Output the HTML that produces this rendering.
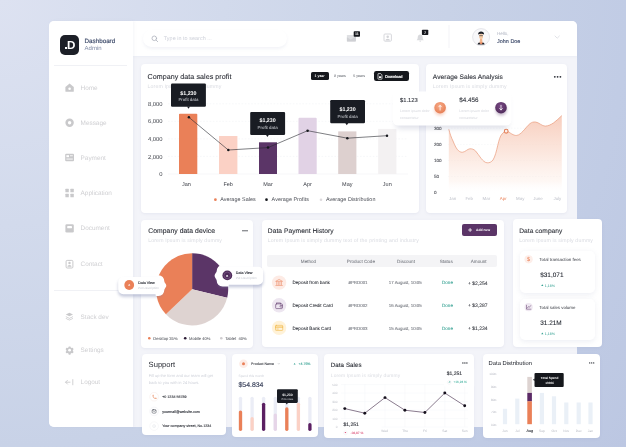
<!DOCTYPE html>
<html><head><meta charset="utf-8">
<style>
*{box-sizing:border-box;margin:0;padding:0}
html,body{width:626px;height:447px;overflow:hidden}
body{font-family:"Liberation Sans",sans-serif;text-rendering:geometricPrecision;background:radial-gradient(circle at 0 0,#dde2f1 0,#d2daec 224px,#c8d2e7 447px,#c1cce5 626px,#bcc7e2 769px);position:relative}
.a{position:absolute}
.t{position:absolute;white-space:nowrap;line-height:1;transform:translateY(-50%)}
.c{transform:translate(-50%,-50%)}
.r{transform:translate(-100%,-50%)}
.b{font-weight:bold}
.card{position:absolute;background:#fff;border-radius:4px;box-shadow:0 1px 3px rgba(120,130,170,.10)}
.h1{font-size:7.1px;color:#2b2e36;letter-spacing:.06px;--sw:.1px}
.sub{font-size:5.18px;color:#d9dbe1;letter-spacing:.15px}
.m{font-size:6.4px;color:#cfcfd2}
svg{position:absolute;left:0;top:0;overflow:visible}
.ax{font-size:5.85px;color:#3f424a}
.lg{font-size:5.4px;color:#4a4d55;letter-spacing:.05px}
.fs{font-size:3.5px;color:#d4d6dc;letter-spacing:.05px}
.ay{font-size:4.6px;color:#3c3f47;--sw:.06px}
.axl{font-size:4.4px;color:#bcbfc8}
.dv{font-size:3.7px;color:#2b2e36;--sw:.12px}
.pd{font-size:3.1px;color:#c9ccd3}
.pl{font-size:4.1px;color:#3c3f47}
.th{font-size:4.6px;color:#72757d;--sw:.04px}
.rn{font-size:4.6px;color:#2b2e36;--sw:.07px}
.rc{font-size:4.4px;color:#72757d;--sw:.08px}
.rd{font-size:4.6px;color:#2f9e8f;--sw:.05px}
.ra{font-size:5px;color:#2b2e36;--sw:.05px}
.sp{font-size:3.65px;color:#2b2e36;--sw:.1px}
.ys{font-size:3.1px;color:#b9bcc5}
.xs{font-size:3.3px;color:#b6b9c2}

text{fill:currentColor;stroke:currentColor;stroke-width:var(--sw,0);white-space:pre}
</style></head><body>
<div id="root" class="a" style="left:0;top:0;width:626px;height:447px;will-change:transform">
<!-- window -->
<div class="a" style="left:49px;top:20.5px;width:528px;height:406.5px;background:#f3f4f9;border-radius:5px"></div>
<div class="a" style="left:133px;top:20.5px;width:444px;height:35.7px;background:#fff;border-radius:0 5px 0 0;box-shadow:0 1px 2px rgba(150,160,190,.08)"></div>
<div class="a" style="left:49px;top:20.5px;width:84px;height:406.5px;background:#fff;border-radius:5px 0 0 5px;box-shadow:1px 0 3px rgba(150,160,190,.10)"></div>

<!-- SIDEBAR -->
<div id="sidebar">
<div class="a" style="left:59.5px;top:35px;width:19.5px;height:19.5px;border-radius:5px;background:#1c1f27"></div>
<div class="a" style="left:64.6px;top:46.6px;width:2.5px;height:2.5px;background:#fff"></div>
<svg width="626" height="447" viewBox="0 0 626 447">
<text class="b" x="67" y="49" text-anchor="start" style="font-size:11.6px;color:#fff">D</text>
<text class="" x="84.6" y="43" text-anchor="start" style="font-size:6.25px;color:#3f4c6b;--sw:.16px">Dashboard</text>
<text class="" x="84.6" y="50" text-anchor="start" style="font-size:6px;color:#7d88a3">Admin</text>
</svg>
<div class="a" style="left:54px;top:65px;width:73px;height:1px;background:#f0f1f5"></div>
<div class="a" style="left:54px;top:290px;width:73px;height:1px;background:#f0f1f5"></div>
<svg width="626" height="447" viewBox="0 0 626 447">
<text class="m" x="80.6" y="90" text-anchor="start">Home</text>
<text class="m" x="80.6" y="125" text-anchor="start">Message</text>
<text class="m" x="80.6" y="160" text-anchor="start">Payment</text>
<text class="m" x="80.6" y="195" text-anchor="start">Application</text>
<text class="m" x="80.6" y="230" text-anchor="start">Document</text>
<text class="m" x="80.6" y="266" text-anchor="start">Contact</text>
<text class="m" x="80.6" y="319" text-anchor="start">Stack dev</text>
<text class="m" x="80.6" y="352" text-anchor="start">Settings</text>
<text class="m" x="80.6" y="384" text-anchor="start">Logout</text>
</svg>
<svg width="626" height="447" viewBox="0 0 626 447" fill="#c9c9cb">
 <!-- home -->
 <path d="M69.6 83.4 L73.8 87 V91.2 a.6 .6 0 0 1 -.6 .6 H66 a.6 .6 0 0 1 -.6 -.6 V87 Z"/>
 <circle cx="69.6" cy="88.8" r="1.3" fill="#fff"/>
 <!-- message -->
 <circle cx="69.6" cy="122.7" r="4.2"/><circle cx="69.6" cy="122.7" r="1.7" fill="#fff"/>
 <!-- payment -->
 <rect x="65.2" y="153.8" width="8.8" height="7.4" rx="1"/>
 <rect x="66.4" y="155.2" width="2.6" height="2" fill="#fff"/><rect x="70" y="155.4" width="2.8" height=".8" fill="#fff"/><rect x="66.4" y="158.6" width="6.4" height=".9" fill="#fff"/>
 <!-- application -->
 <rect x="65.4" y="188.8" width="3.4" height="3.4" rx=".5"/><rect x="70.4" y="188.8" width="3.4" height="3.4" rx=".5"/>
 <rect x="65.4" y="193.8" width="3.4" height="3.4" rx=".5"/><rect x="70.4" y="193.8" width="3.4" height="3.4" rx=".5"/>
 <!-- document -->
 <rect x="65.4" y="224.2" width="8.4" height="8.4" rx="1.3"/><rect x="67.2" y="226" width="4.8" height="2.2" rx=".4" fill="#fff"/>
 <!-- contact -->
 <rect x="66.1" y="260.4" width="6.8" height="7.6" rx="1.1" fill="#fff" stroke="#c9c9cb" stroke-width="1"/><circle cx="69.5" cy="263" r="1.2"/><path d="M67.4 266.8 a2.1 1.7 0 0 1 4.2 0 Z"/>
 <!-- stack -->
 <g transform="translate(69.4 316.6) scale(.78) translate(-69.6 -316.5)">
 <path d="M69.6 311.6 L74.2 313.9 L69.6 316.2 L65 313.9 Z"/>
 <path d="M65 316 L69.6 318.3 L74.2 316 L74.2 316.9 L69.6 319.2 L65 316.9 Z"/>
 <path d="M65 318.2 L69.6 320.5 L74.2 318.2 L74.2 319.1 L69.6 321.4 L65 319.1 Z"/>
 </g>
 <!-- settings -->
 <g transform="translate(69.6 350.2) scale(.82)"><path d="M-1 -4.6 h2 l.4 1.3 l1.2 .7 l1.3 -.4 l1 1.7 l-.9 1 v1.4 l.9 1 l-1 1.7 l-1.3 -.4 l-1.2 .7 l-.4 1.3 h-2 l-.4 -1.3 l-1.2 -.7 l-1.3 .4 l-1 -1.7 l.9 -1 v-1.4 l-.9 -1 l1 -1.7 l1.3 .4 l1.2 -.7 Z"/><circle r="1.7" fill="#fff"/></g>
 <!-- logout -->
 <g stroke="#c9c9cb" stroke-width=".85" fill="none" stroke-linecap="round" stroke-linejoin="round"><path d="M70 382.2 H65.600 M67.500 380.300 L65.600 382.200 L67.500 384.100"/><path d="M72.800 379.600 V384.800"/></g>
</svg>
</div>

<!-- HEADER -->
<div id="header">
<div class="a" style="left:143px;top:30px;width:144px;height:17px;border-radius:8.5px;background:#fff;box-shadow:0 2px 3px rgba(140,150,190,.10)"></div>
<svg width="626" height="447" viewBox="0 0 626 447"><g stroke="#aeb2bd" stroke-width=".8" fill="none" stroke-linecap="round"><circle cx="154.3" cy="38.3" r="2.3"/><path d="M156.1 40.1 L157.7 41.7"/></g></svg>
<svg width="626" height="447" viewBox="0 0 626 447">
<text class="" x="163.8" y="40" text-anchor="start" style="font-size:5.4px;color:#cdd0d9;letter-spacing:.05px">Type in to search ...</text>
</svg>
<svg width="626" height="447" viewBox="0 0 626 447" fill="#d3d4d8">
 <rect x="346.9" y="35" width="9" height="6.4" rx=".6" fill="#dfe0e3"/><path d="M346.9 41.4 V37.2 L350.6 39.4 L355.9 36.4 V40.8 a.6 .6 0 0 1 -.6 .6 Z" fill="#cfd0d4"/>
 <rect x="353.7" y="31.2" width="6.3" height="5.6" rx=".8" fill="#15171c"/>
 <rect x="384" y="34" width="7.4" height="7.2" rx="1" fill="#fff" stroke="#d3d4d8" stroke-width=".9"/><circle cx="387.7" cy="36.7" r="1.25"/><path d="M385.4 40.6 a2.3 1.9 0 0 1 4.600 0 Z"/>
 <path d="M420.2 34.4 c1.800 0 2.500 1.500 2.500 3 c0 1.500 .5 2.100 1.100 2.800 H416.600 c.6 -.7 1.100 -1.300 1.100 -2.800 c0 -1.500 .7 -3 2.500 -3 Z M419.300 40.800 h1.800 a.9 .9 0 0 1 -1.800 0Z" fill="#d9dadd"/>
 <rect x="421.900" y="29.700" width="6.400" height="5.400" rx=".8" fill="#15171c"/>
 <rect x="448.6" y="25" width=".8" height="23" fill="#f0f1f5"/>
</svg>
<svg width="626" height="447" viewBox="0 0 626 447">
<text class="b" x="356.9" y="35" text-anchor="middle" style="font-size:3.6px;color:#fff">11</text>
<text class="b" x="425.1" y="34" text-anchor="middle" style="font-size:3.8px;color:#fff">7</text>
</svg>
<svg width="626" height="447" viewBox="0 0 626 447">
 <circle cx="481.1" cy="37.1" r="8.5" fill="#f8f8fa" stroke="#dfe0e4" stroke-width=".8"/>
 <path d="M477.600 44.600 c.2 -1.700 1.200 -2.400 3.500 -2.400 s3.300 .7 3.500 2.400 Z" fill="#1d1f26"/>
 <path d="M480.100 38.600 h2 l.5 4.400 l-1.500 1.300 l-1.500 -1.300 Z" fill="#f2b48c"/>
 <path d="M480.700 42 h.8 l.3 1.800 l-.7 .7 l-.7 -.7 Z" fill="#ea8058"/>
 <rect x="479.200" y="33.800" width="3.800" height="5.200" rx="1.700" fill="#f6cba6"/>
 <path d="M478.100 34.400 c0 -2 1.400 -2.800 3 -2.800 s3 .8 3 2.800 c-1 -.5 -2 -.7 -3 -.7 s-2 .2 -3 .7Z" fill="#1d1f26"/>
 <path d="M479.300 35.700 h3.600" stroke="#3b3d45" stroke-width=".7"/>
 <path d="M555 36 L557.2 38.2 L559.4 36" stroke="#d4d6dc" stroke-width=".7" fill="none" stroke-linecap="round" stroke-linejoin="round"/>
</svg>
<svg width="626" height="447" viewBox="0 0 626 447">
<text class="" x="497.1" y="35" text-anchor="start" style="font-size:4.5px;color:#b0b5c2">Hello,</text>
<text class="" x="497.1" y="43" text-anchor="start" style="font-size:5.45px;color:#3f4c6b;--sw:.14px">John Doe</text>
</svg>
</div>

<!-- CARDS -->
<div class="card" id="c1" style="left:140.5px;top:64px;width:278.4px;height:148.5px"></div>
<div class="card" id="c2" style="left:426.4px;top:64px;width:141px;height:148.5px"></div>
<div class="card" id="c3" style="left:141.4px;top:220px;width:111.7px;height:127.9px"></div>
<div class="card" id="c4" style="left:262px;top:220px;width:242px;height:126.8px"></div>
<div class="card" id="c5" style="left:512.8px;top:218.8px;width:89.2px;height:128px"></div>
<div class="card" id="c6" style="left:142px;top:354.4px;width:84.2px;height:80.8px"></div>
<div class="card" id="c7" style="left:232px;top:354.4px;width:85.7px;height:82.6px"></div>
<div class="card" id="c8" style="left:323.6px;top:354.4px;width:150.9px;height:83.7px"></div>
<div class="card" id="c9" style="left:482.6px;top:354.2px;width:117.7px;height:84.2px"></div>

<!--C1S-->
<div id="c1c">
<svg width="626" height="447" viewBox="0 0 626 447">
<text class="h1" x="147.5" y="79" text-anchor="start">Company data sales profit</text>
<text class="sub" x="147.5" y="88" text-anchor="start">Lorem Ipsum is simply dummy</text>
</svg>
<div class="a" style="left:311px;top:72.2px;width:17.5px;height:7.9px;border-radius:1.6px;background:#15171c"></div>
<svg width="626" height="447" viewBox="0 0 626 447">
<text class="b" x="319.6" y="77" text-anchor="middle" style="font-size:3.5px;color:#fff">1 year</text>
<text class="" x="340" y="77" text-anchor="middle" style="font-size:3.6px;color:#75787f;--sw:.05px">3 years</text>
<text class="" x="359.2" y="77" text-anchor="middle" style="font-size:3.6px;color:#75787f;--sw:.05px">5 years</text>
</svg>
<div class="a" style="left:374px;top:71.4px;width:35.2px;height:9.7px;border-radius:2.2px;background:#15171c"></div>
<svg width="626" height="447" viewBox="0 0 626 447">
<text class="" x="385" y="78" text-anchor="start" style="font-size:3.95px;color:#fff;--sw:.18px">Download</text>
</svg>
<svg width="626" height="447" viewBox="0 0 626 447">
 <path d="M378.4 73.6 h2.3 l1.3 1.3 v3.9 a.4 .4 0 0 1 -.4 .4 h-3.2 a.4 .4 0 0 1 -.4 -.4 v-4.8 a.4 .4 0 0 1 .4 -.4Z" fill="none" stroke="#fff" stroke-width=".7"/>
 <rect x="379" y="76.3" width="2.2" height="1.7" fill="#fff"/>
 <g stroke="#f0f1f5" stroke-width=".6" stroke-dasharray="1.6 1.6">
  <path d="M168 103.8 H408 M168 121.3 H408 M168 138.9 H408 M168 156.4 H408"/>
 </g>
 <path d="M168 174 H408" stroke="#f1f2f5" stroke-width=".6"/>
 <path d="M179 174 V114.6 a.9 .9 0 0 1 .9 -.9 h16.5 a.9 .9 0 0 1 .9 .9 V174 Z" fill="#ea8058"/>
 <rect x="219" y="136" width="18.4" height="38" fill="#fbd1c5"/>
 <rect x="259" y="142.3" width="18" height="31.7" fill="#5b3567"/>
 <path d="M298.5 174 V118.7 a1 1 0 0 1 1 -1 h16.2 a1 1 0 0 1 1 1 V174 Z" fill="#e1d2e5"/>
 <rect x="338.2" y="131.4" width="18.2" height="42.6" fill="#ddd0cf"/>
 <rect x="378.2" y="128.9" width="18.2" height="45.1" fill="#f3f1f2"/>
 <polyline points="188.9,117.3 228.3,150 268,147.6 307.6,130.7 347.3,138.2 387,135.7" fill="none" stroke="#26282f" stroke-width=".6"/>
 <g fill="#15171c"><circle cx="188.9" cy="117.3" r="1.25"/><circle cx="228.3" cy="150" r="1.25"/><circle cx="268" cy="147.6" r="1.25"/><circle cx="307.6" cy="130.7" r="1.25"/><circle cx="347.3" cy="138.2" r="1.25"/><circle cx="387" cy="135.7" r="1.25"/></g>
 <g fill="#191c23">
  <rect x="171" y="83.5" width="34.9" height="23.3" rx="1.2"/><path d="M187 106.6 h3 l-1.5 2.1 Z"/>
  <rect x="250.2" y="111.9" width="34.9" height="23.1" rx="1.2"/><path d="M265.9 134.8 h3 l-1.5 2.1 Z"/>
  <rect x="330.2" y="100.1" width="34.8" height="23.2" rx="1.2"/><path d="M345.3 123.1 h3 l-1.5 2.1 Z"/>
 </g>
 <circle cx="215.4" cy="199.7" r="1.35" fill="#ea8058"/><circle cx="266.5" cy="199.7" r="1.35" fill="#15171c"/><circle cx="321" cy="199.7" r="1.3" fill="#dddadd"/>
</svg>
<svg width="626" height="447" viewBox="0 0 626 447">
<text class="b" x="188.4" y="95" text-anchor="middle" style="font-size:5.3px;color:#fff">$1,230</text>
<text class="" x="188.4" y="101" text-anchor="middle" style="font-size:4.4px;color:#d9dbe0">Profit data</text>
<text class="b" x="267.6" y="122" text-anchor="middle" style="font-size:5.3px;color:#fff">$1,230</text>
<text class="" x="267.6" y="129" text-anchor="middle" style="font-size:4.4px;color:#d9dbe0">Profit data</text>
<text class="b" x="347.6" y="111" text-anchor="middle" style="font-size:5.3px;color:#fff">$1,230</text>
<text class="" x="347.6" y="118" text-anchor="middle" style="font-size:4.4px;color:#d9dbe0">Profit data</text>
<text class="ax" x="162.6" y="106" text-anchor="end">8,000</text>
<text class="ax" x="162.6" y="123" text-anchor="end">6,000</text>
<text class="ax" x="162.6" y="141" text-anchor="end">4,000</text>
<text class="ax" x="162.6" y="159" text-anchor="end">2,000</text>
<text class="ax" x="162.6" y="176" text-anchor="end">0</text>
<text class="ax" x="186.4" y="186" text-anchor="middle" style="font-size:5.5px">Jan</text>
<text class="ax" x="228.2" y="186" text-anchor="middle" style="font-size:5.5px">Feb</text>
<text class="ax" x="268" y="186" text-anchor="middle" style="font-size:5.5px">Mar</text>
<text class="ax" x="307.6" y="186" text-anchor="middle" style="font-size:5.5px">Apr</text>
<text class="ax" x="347.3" y="186" text-anchor="middle" style="font-size:5.5px">May</text>
<text class="ax" x="387.3" y="186" text-anchor="middle" style="font-size:5.5px">Jun</text>
<text class="lg" x="220.2" y="201" text-anchor="start">Average Sales</text>
<text class="lg" x="271.6" y="201" text-anchor="start">Average Profits</text>
<text class="lg" x="326" y="201" text-anchor="start">Average Distribution</text>
</svg>
</div>
<!--C1E-->
<!--C2S-->
<div id="c2c">
<svg width="626" height="447" viewBox="0 0 626 447">
<text class="h1" x="432.8" y="79" text-anchor="start" style="font-size:6.6px">Average Sales Analysis</text>
<text class="sub" x="432.8" y="88" text-anchor="start">Lorem Ipsum is simply dummy</text>
</svg>
<svg width="626" height="447" viewBox="0 0 626 447">
 <defs>
  <linearGradient id="ag" x1="0" y1="0" x2="0" y2="1"><stop offset="0" stop-color="#f7cbba" stop-opacity=".95"/><stop offset=".5" stop-color="#fadccf" stop-opacity=".66"/><stop offset=".85" stop-color="#fce6dc" stop-opacity=".3"/><stop offset="1" stop-color="#fff" stop-opacity="0"/></linearGradient>
  <radialGradient id="og" cx=".45" cy=".35" r=".7"><stop offset="0" stop-color="#f7ab88"/><stop offset="1" stop-color="#e57c52"/></radialGradient>
  <radialGradient id="pg" cx=".45" cy=".35" r=".7"><stop offset="0" stop-color="#7a4a86"/><stop offset="1" stop-color="#4d2a58"/></radialGradient>
  <filter id="sh" x="-50%" y="-50%" width="200%" height="200%"><feGaussianBlur stdDeviation="1.6"/></filter>
 <filter id="sh2" x="-50%" y="-50%" width="200%" height="200%"><feGaussianBlur stdDeviation="2.6"/></filter>
 </defs>
 <g fill="#2b2e36"><circle cx="554.8" cy="76.8" r=".9"/><circle cx="557.6" cy="76.8" r=".9"/><circle cx="560.4" cy="76.8" r=".9"/></g>
 <g stroke="#f1f2f5" stroke-width=".5" stroke-dasharray="1.5 1.5"><path d="M448 128.2 H562 M448 144.4 H562 M448 160.4 H562 M448 176.4 H562"/></g>
 <path id="acurve" d="M448.8 129.2 C450 134 451.5 138 453 141 C455 146 456.5 149 458.6 150.8 C460 152 461.5 152.4 462.8 152.2 C465.5 151.8 467.5 149 469.8 148.8 C472 148.6 473.8 149.4 475.4 150.8 C477.6 153 479 156 481 158.3 C483 160.8 485 162.6 487.1 162.8 C489.4 163 491.5 162 493 160 C495.2 156.5 496.4 151 497.8 145.2 C499 140 500.2 136 502 134 C503.3 132.4 504.8 131.4 506.2 131.2 C508.2 131 510 133 511.8 134 C513.5 135 515.2 135.6 516.8 135.4 C519.2 135 521 133.2 523 131.2 C525.5 128.6 527.5 125.6 530 123.6 C531.8 122.2 533.6 121.8 535.5 122 C539 122.4 542 126.2 545.3 126.1 C548.3 126 551 124.6 553.7 122.8 C556.6 120.8 559 118.2 561.8 115.6 V193 H448.8 Z" fill="url(#ag)"/>
 <path d="M448.8 129.2 C450 134 451.5 138 453 141 C455 146 456.5 149 458.6 150.8 C460 152 461.5 152.4 462.8 152.2 C465.5 151.8 467.5 149 469.8 148.8 C472 148.6 473.8 149.4 475.4 150.8 C477.6 153 479 156 481 158.3 C483 160.8 485 162.6 487.1 162.8 C489.4 163 491.5 162 493 160 C495.2 156.5 496.4 151 497.8 145.2 C499 140 500.2 136 502 134 C503.3 132.4 504.8 131.4 506.2 131.2 C508.2 131 510 133 511.8 134 C513.5 135 515.2 135.6 516.8 135.4 C519.2 135 521 133.2 523 131.2 C525.5 128.6 527.5 125.6 530 123.6 C531.8 122.2 533.6 121.8 535.5 122 C539 122.4 542 126.2 545.3 126.1 C548.3 126 551 124.6 553.7 122.8 C556.6 120.8 559 118.2 561.8 115.6" fill="none" stroke="#ea9b7b" stroke-width=".7"/>
 <circle cx="506.2" cy="131.2" r="1.9" fill="#fdf3ee" stroke="#e58058" stroke-width="1.1"/>
 <!-- floating card -->
 <rect x="395" y="96" width="114" height="33" rx="6" fill="#858bab" opacity=".24" filter="url(#sh2)"/>
 <rect x="392.6" y="91.4" width="119" height="34.2" rx="5.5" fill="#fff"/>
 <circle cx="440" cy="110" r="5.6" fill="#ea8058" opacity=".35" filter="url(#sh)"/>
 <circle cx="501.2" cy="110" r="5.6" fill="#5b3567" opacity=".35" filter="url(#sh)"/>
 <circle cx="440.1" cy="107.7" r="5.8" fill="url(#og)"/>
 <circle cx="501" cy="107.7" r="5.8" fill="url(#pg)"/>
 <g stroke="#fff" stroke-width=".8" fill="none" stroke-linecap="round" stroke-linejoin="round">
  <path d="M440.1 110.1 V105.5 M438.8 106.8 L440.1 105.4 L441.4 106.8"/>
  <path d="M501 105.3 V109.9 M499.7 108.6 L501 110 L502.3 108.6"/>
 </g>
</svg>
<svg width="626" height="447" viewBox="0 0 626 447">
<text class="" x="400" y="102" text-anchor="start" style="font-size:5.8px;color:#33363e;--sw:.1px">$1.123</text>
<text class="" x="459.2" y="102" text-anchor="start" style="font-size:6.3px;color:#33363e;--sw:.1px">$4.456</text>
<text class="fs" x="400" y="112" text-anchor="start">Lorem ipsum dolor</text>
<text class="fs" x="400" y="119" text-anchor="start">consectetur</text>
<text class="fs" x="459.2" y="112" text-anchor="start">Lorem ipsum dolor</text>
<text class="fs" x="459.2" y="119" text-anchor="start">consectetur</text>
<text class="ay" x="434" y="130" text-anchor="start">300</text>
<text class="ay" x="434" y="146" text-anchor="start">200</text>
<text class="ay" x="434" y="162" text-anchor="start">100</text>
<text class="ay" x="434" y="178" text-anchor="start">50</text>
<text class="ay" x="434" y="194" text-anchor="start">0</text>
<text class="axl" x="452.6" y="200" text-anchor="middle">Jan</text>
<text class="axl" x="469.2" y="200" text-anchor="middle">Feb</text>
<text class="axl" x="486.4" y="200" text-anchor="middle">Mar</text>
<text class="axl" x="503.2" y="200" text-anchor="middle" style="color:#ea8058">Apr</text>
<text class="axl" x="520.2" y="200" text-anchor="middle">May</text>
<text class="axl" x="538" y="200" text-anchor="middle">June</text>
<text class="axl" x="557.4" y="200" text-anchor="middle">July</text>
</svg>
</div>
<!--C2E-->
<!--C3S-->
<div id="c3c">
<svg width="626" height="447" viewBox="0 0 626 447">
<text class="h1" x="148.2" y="233" text-anchor="start" style="font-size:6.8px">Company data device</text>
<text class="sub" x="148.2" y="242" text-anchor="start">Lorem Ipsum is simply dummy</text>
</svg>
<svg width="626" height="447" viewBox="0 0 626 447">
 <g fill="#2b2e36"><circle cx="243" cy="230.8" r=".68"/><circle cx="245" cy="230.8" r=".68"/><circle cx="247" cy="230.8" r=".68"/></g>
 <path d="M192.1 289.3 L192.10 253.20 A36.1 36.1 0 0 1 227.17 297.85 Z" fill="#5b3567"/>
 <path d="M192.1 289.3 L227.17 297.85 A36.1 36.1 0 0 1 165.91 314.15 Z" fill="#ded3d1"/>
 <path d="M192.1 289.3 L165.91 314.15 A36.1 36.1 0 0 1 192.10 253.20 Z" fill="#ea8058"/>
 <path d="M123.2 277 H158.4 C161 277 162.6 278.8 162.6 281.2 C162.6 283.6 164.6 284.6 164.6 285.65 C164.6 286.7 162.6 287.7 162.6 290.1 C162.6 292.5 161 294.3 158.4 294.3 H123.2 A5 5 0 0 1 118.2 289.3 V282 A5 5 0 0 1 123.2 277 Z" fill="#7f88b0" opacity=".45" filter="url(#sh)" transform="translate(0 2.5)"/>
 <path d="M258.2 266.7 H222.6 C220 266.7 218.4 268.5 218.4 270.9 C218.4 273.3 216.3 274.5 216.3 275.75 C216.3 277 218.4 278.2 218.4 280.6 C218.4 283 220 284.8 222.6 284.8 H258.2 A5 5 0 0 0 263.2 279.8 V271.7 A5 5 0 0 0 258.2 266.7 Z" fill="#7f88b0" opacity=".45" filter="url(#sh)" transform="translate(0 2.5)"/>
 <path d="M123.2 277 H158.4 C161 277 162.6 278.8 162.6 281.2 C162.6 283.6 164.6 284.6 164.6 285.65 C164.6 286.7 162.6 287.7 162.6 290.1 C162.6 292.5 161 294.3 158.4 294.3 H123.2 A5 5 0 0 1 118.2 289.3 V282 A5 5 0 0 1 123.2 277 Z" fill="#fff" stroke="#fff" stroke-width="3.4" stroke-linejoin="round" clip-path="url(#pieclip)"/>
 <path d="M258.2 266.7 H222.6 C220 266.7 218.4 268.5 218.4 270.9 C218.4 273.3 216.3 274.5 216.3 275.75 C216.3 277 218.4 278.2 218.4 280.6 C218.4 283 220 284.8 222.6 284.8 H258.2 A5 5 0 0 0 263.2 279.8 V271.7 A5 5 0 0 0 258.2 266.7 Z" fill="#fff" stroke="#fff" stroke-width="3.4" stroke-linejoin="round" clip-path="url(#pieclip)"/>
 <path d="M123.2 277 H158.4 C161 277 162.6 278.8 162.6 281.2 C162.6 283.6 164.6 284.6 164.6 285.65 C164.6 286.7 162.6 287.7 162.6 290.1 C162.6 292.5 161 294.3 158.4 294.3 H123.2 A5 5 0 0 1 118.2 289.3 V282 A5 5 0 0 1 123.2 277 Z" fill="#fff"/>
 <path d="M258.2 266.7 H222.6 C220 266.7 218.4 268.5 218.4 270.9 C218.4 273.3 216.3 274.5 216.3 275.75 C216.3 277 218.4 278.2 218.4 280.6 C218.4 283 220 284.8 222.6 284.8 H258.2 A5 5 0 0 0 263.2 279.8 V271.7 A5 5 0 0 0 258.2 266.7 Z" fill="#fff"/>
 <clipPath id="pieclip"><circle cx="192.1" cy="289.3" r="37"/></clipPath>
 <circle cx="129.2" cy="285" r="4.9" fill="#ea8058"/>
 <circle cx="227.3" cy="275.4" r="4.9" fill="#4f2c5b"/>
 <circle cx="227.3" cy="275.4" r="3.3" fill="none" stroke="#8d6a97" stroke-width=".5"/>
 <circle cx="149.3" cy="338.2" r="1.3" fill="#ea8058"/><circle cx="185.2" cy="338.2" r="1.3" fill="#2a1a33"/><circle cx="221.3" cy="338.2" r="1.3" fill="#cfcccf"/>
</svg>
<svg width="626" height="447" viewBox="0 0 626 447">
<text class="b" x="129.2" y="286" text-anchor="middle" style="font-size:2.8px;color:#fff">A</text>
<text class="b" x="227.3" y="277" text-anchor="middle" style="font-size:2.8px;color:#fff">B</text>
<text class="dv" x="138" y="284" text-anchor="start">Data View</text>
<text class="pd" x="138" y="289" text-anchor="start">Put Description</text>
<text class="dv" x="235.8" y="274" text-anchor="start">Data View</text>
<text class="pd" x="235.8" y="279" text-anchor="start">Put Description</text>
<text class="pl" x="153.2" y="340" text-anchor="start">Desktop 35%</text>
<text class="pl" x="189" y="340" text-anchor="start">Mobile 40%</text>
<text class="pl" x="225.2" y="340" text-anchor="start">Tablet  40%</text>
</svg>
</div>
<!--C3E-->
<!--C4S-->
<div id="c4c">
<svg width="626" height="447" viewBox="0 0 626 447">
<text class="h1" x="267.8" y="233" text-anchor="start" style="font-size:6.65px">Data Payment History</text>
<text class="sub" x="267.8" y="242" text-anchor="start">Lorem Ipsum is simply dummy text of the printing and industry</text>
</svg>
<div class="a" style="left:462.4px;top:224.4px;width:34.5px;height:11.2px;border-radius:2px;background:#5b3567"></div>
<svg width="626" height="447" viewBox="0 0 626 447">
<text class="b" x="476" y="231" text-anchor="start" style="font-size:3.4px;color:#fff">Add new</text>
</svg>
<div class="a" style="left:267.1px;top:254.6px;width:229.7px;height:12.2px;border-radius:2px;background:#f4f4f6"></div>
<svg width="626" height="447" viewBox="0 0 626 447">
<text class="th" x="308.5" y="263" text-anchor="middle">Method</text>
<text class="th" x="360.9" y="263" text-anchor="middle">Product Code</text>
<text class="th" x="406" y="263" text-anchor="middle">Discount</text>
<text class="th" x="446.2" y="263" text-anchor="middle">Status</text>
<text class="th" x="478.7" y="263" text-anchor="middle">Amount</text>
</svg>
<svg width="626" height="447" viewBox="0 0 626 447">
 <g stroke="#fff" stroke-width=".8" stroke-linecap="round"><path d="M468.6 230 h3 M470.1 228.5 v3"/></g>
 <circle cx="279.1" cy="282.6" r="7.2" fill="#fdebe5"/>
 <circle cx="279.1" cy="305.3" r="7.2" fill="#ede6f0"/>
 <circle cx="279.1" cy="327.9" r="7.2" fill="#fff2d8"/>
 <!-- bank -->
 <g fill="none" stroke="#ea8058" stroke-width=".6" stroke-linejoin="round" stroke-linecap="round" transform="translate(279.1 282.6) scale(.88) translate(-279.1 -282.6)">
  <path d="M275.6 281 L279.1 279 L282.6 281 Z"/><path d="M276.4 282 V285 M278.2 282 V285 M280 282 V285 M281.8 282 V285"/><path d="M275.4 285.9 H282.8"/>
 </g>
 <!-- wallet -->
 <g fill="none" stroke="#5b3567" stroke-width=".65" stroke-linejoin="round" stroke-linecap="round" transform="translate(279.1 305.6) scale(.88) translate(-279.1 -305.6)">
  <path d="M276.2 302.6 h4.6 v1.2"/><rect x="275.2" y="303.6" width="7.6" height="5.4" rx=".9"/><path d="M282.8 305.4 h-1.9 a.9 .9 0 0 0 0 1.8 h1.9"/>
 </g>
 <!-- card -->
 <g fill="none" stroke="#f0b43c" stroke-width=".65" stroke-linejoin="round" stroke-linecap="round" transform="translate(279.1 327.9) scale(.88) translate(-279.1 -327.9)">
  <rect x="275" y="325" width="8.2" height="5.8" rx=".8"/><path d="M275 327 H283.2" stroke-width="1"/><path d="M276.4 329.2 h1.8"/>
 </g>
</svg>
<svg width="626" height="447" viewBox="0 0 626 447">
<text class="rn" x="292.5" y="284" text-anchor="start">Deposit from bank</text>
<text class="rn" x="292.5" y="307" text-anchor="start">Deposit Credit Card</text>
<text class="rn" x="292.5" y="330" text-anchor="start">Deposit Bank Card</text>
<text class="rc" x="348.5" y="284" text-anchor="start">#PRD001</text>
<text class="rc" x="348.5" y="307" text-anchor="start">#PRD002</text>
<text class="rc" x="348.5" y="330" text-anchor="start">#PRD003</text>
<text class="rc" x="388.8" y="284" text-anchor="start">17 August, 10:05</text>
<text class="rc" x="388.8" y="307" text-anchor="start">16 August, 10:05</text>
<text class="rc" x="388.8" y="330" text-anchor="start">15 August, 10:05</text>
<text class="rd" x="442" y="284" text-anchor="start">Done</text>
<text class="rd" x="442" y="307" text-anchor="start">Done</text>
<text class="rd" x="442" y="330" text-anchor="start">Done</text>
<text class="ra" x="468" y="285" text-anchor="start">+ $2,254</text>
<text class="ra" x="468" y="307" text-anchor="start">+ $3,287</text>
<text class="ra" x="468" y="330" text-anchor="start">+ $1,234</text>
</svg>
</div>
<!--C4E-->
<!--C5S-->
<div id="c5c">
<svg width="626" height="447" viewBox="0 0 626 447">
<text class="h1" x="519.2" y="233" text-anchor="start" style="font-size:6.6px">Data company</text>
<text class="sub" x="519.2" y="242" text-anchor="start">Lorem Ipsum is simply dummy</text>
</svg>
<div class="a" style="left:520px;top:251.2px;width:75.2px;height:41.6px;border-radius:5px;background:#fff;box-shadow:0 1.5px 5px rgba(120,130,175,.12)"></div>
<div class="a" style="left:520px;top:299.4px;width:75.2px;height:41px;border-radius:5px;background:#fff;box-shadow:0 1.5px 5px rgba(120,130,175,.12)"></div>
<svg width="626" height="447" viewBox="0 0 626 447">
 <circle cx="528.6" cy="259.3" r="4.1" fill="#fdeee9"/>
 <circle cx="528.6" cy="307.2" r="4.1" fill="#efe8f1"/>
 <g fill="none" stroke="#5b3567" stroke-width=".5" stroke-linecap="round" stroke-linejoin="round"><path d="M526.5 305.2 V309.2 H530.9"/><path d="M527.3 308 L528.5 306.6 L529.3 307.3 L530.7 305.6"/></g>
 <path d="M541.2 286 l1.1 -1.7 l1.1 1.7 Z" fill="#2f9e8f"/>
 <path d="M541.2 334.3 l1.1 -1.7 l1.1 1.7 Z" fill="#2f9e8f"/>
</svg>
<svg width="626" height="447" viewBox="0 0 626 447">
<text class="" x="528.6" y="261" text-anchor="middle" style="font-size:5.6px;color:#ea8058">$</text>
<text class="" x="539.3" y="261" text-anchor="start" style="font-size:4.4px;color:#33363e">Total transaction fees</text>
<text class="" x="539.3" y="309" text-anchor="start" style="font-size:4.4px;color:#33363e">Total sales volume</text>
<text class="" x="540.2" y="277" text-anchor="start" style="font-size:6.45px;color:#22262f;--sw:.08px">$31,071</text>
<text class="" x="540.2" y="325" text-anchor="start" style="font-size:6.45px;color:#22262f;--sw:.08px">31.21M</text>
<text class="" x="544.7" y="287" text-anchor="start" style="font-size:3.7px;color:#2f9e8f">1,16%</text>
<text class="" x="544.7" y="335" text-anchor="start" style="font-size:3.7px;color:#2f9e8f">1,16%</text>
</svg>
</div>
<!--C5E-->
<!--C6S-->
<div id="c6c">
<svg width="626" height="447" viewBox="0 0 626 447">
<text class="" x="148.6" y="367" text-anchor="start" style="font-size:7.6px;color:#2b2e36">Support</text>
<text class="" x="148.7" y="377" text-anchor="start" style="font-size:4px;color:#cfd2da">Fill up the form and our team will get</text>
<text class="" x="148.7" y="384" text-anchor="start" style="font-size:4px;color:#cfd2da">back to you with in 24 hours.</text>
</svg>
<svg width="626" height="447" viewBox="0 0 626 447">
 <circle cx="154.1" cy="396.7" r="4.3" fill="#fff" stroke="#f6ece9" stroke-width=".6"/>
 <circle cx="154.1" cy="411.4" r="4.3" fill="#fff" stroke="#efeff3" stroke-width=".6"/>
 <circle cx="154.1" cy="426.1" r="4.3" fill="#fff" stroke="#f3f3f5" stroke-width=".6"/>
 <path d="M152.5 394.9 l.8 -.3 l.7 1.2 l-.5 .6 c.3 .7 .8 1.2 1.5 1.5 l.6 -.5 l1.2 .7 l-.3 .8 c-2.200 .4 -4.4 -1.800 -4 -4 Z" fill="#efb093"/>
 <g fill="none" stroke="#4a4d58" stroke-width=".55" stroke-linecap="round" stroke-linejoin="round"><rect x="152.1" y="409.6" width="4" height="3.600" rx="1.1"/><path d="M152.5 410.2 L154.1 411.600 L155.7 410.2"/></g>
 <g fill="none" stroke="#e3e4e8" stroke-width=".5"><circle cx="154.1" cy="426.1" r="1.5"/><circle cx="154.1" cy="426.1" r=".4"/></g>
</svg>
<svg width="626" height="447" viewBox="0 0 626 447">
<text class="sp" x="162.2" y="398" text-anchor="start">+0 1234 56789</text>
<text class="sp" x="162.2" y="413" text-anchor="start">yourmail@website.com</text>
<text class="sp" x="162.2" y="427" text-anchor="start">Your company street, No.1234</text>
</svg>
</div>
<!--C6E-->
<!--C7S-->
<div id="c7c">
<svg width="626" height="447" viewBox="0 0 626 447">
 <circle cx="243.5" cy="363.8" r="4.3" fill="#fdece6"/>
 <circle cx="243.5" cy="363.8" r="1.5" fill="#ea8058"/>
 <path d="M278 363.3 l.8 .9 l.8 -.9" fill="none" stroke="#8a8d96" stroke-width=".4"/>
 <path d="M293.6 364.5 l1 -1.600 l1 1.600 Z" fill="#2f9e8f"/>
 <g fill="#ebedf6">
  <rect x="238.85" y="396.700" width="3.300" height="34.200" rx="1.650"/><rect x="250.45" y="396.700" width="3.300" height="34.200" rx="1.650"/><rect x="261.95" y="396.700" width="3.300" height="34.200" rx="1.650"/><rect x="273.65" y="396.700" width="3.300" height="34.200" rx="1.650"/><rect x="285.15" y="396.700" width="3.300" height="34.200" rx="1.650"/><rect x="296.75" y="396.700" width="3.300" height="34.200" rx="1.650"/><rect x="308.25" y="396.700" width="3.300" height="34.200" rx="1.650"/>
 </g>
 <rect x="238.85" y="410.4" width="3.300" height="20.5" rx="1.650" fill="#ea8058"/>
 <rect x="250.45" y="417" width="3.300" height="13.9" rx="1.650" fill="#fbd1c5"/>
 <rect x="261.95" y="402.700" width="3.300" height="28.2" rx="1.650" fill="#5b1f62"/>
 <rect x="273.65" y="413.4" width="3.300" height="17.5" rx="1.650" fill="#e6d5e8"/>
 <rect x="285.15" y="407.3" width="3.300" height="23.600" rx="1.650" fill="#ea8058"/>
 <rect x="296.75" y="402.700" width="3.300" height="28.2" rx="1.650" fill="#fbd1c5"/>
 <rect x="308.25" y="423" width="3.300" height="7.9" rx="1.650" fill="#5b1f62"/>
 <rect x="277" y="389.200" width="20.8" height="13.7" rx="1.1" fill="#191c23"/><path d="M285.600 402.700 h2.400 l-1.200 1.800 Z" fill="#191c23"/>
</svg>
<svg width="626" height="447" viewBox="0 0 626 447">
<text class="" x="251.1" y="365" text-anchor="start" style="font-size:3.6px;color:#2b2e36;--sw:.06px">Product Name</text>
<text class="" x="298.4" y="365" text-anchor="start" style="font-size:3.55px;color:#2f9e8f;--sw:.08px">+4.76%</text>
<text class="" x="238.5" y="377" text-anchor="start" style="font-size:3.3px;color:#cfd2da">Spend this month</text>
<text class="" x="238.5" y="387" text-anchor="start" style="font-size:6.9px;color:#2d3550;--sw:.12px">$54.834</text>
<text class="b" x="287.4" y="396" text-anchor="middle" style="font-size:3.4px;color:#fff">$1,230</text>
<text class="" x="287.4" y="400" text-anchor="middle" style="font-size:2.6px;color:#d9dbe0">Profit data</text>
</svg>
</div>
<!--C7E-->
<!--C8S-->
<div id="c8c">
<svg width="626" height="447" viewBox="0 0 626 447">
<text class="h1" x="330.8" y="367" text-anchor="start" style="font-size:6.2px">Data Sales</text>
<text class="sub" x="330.8" y="377" text-anchor="start" style="font-size:4.85px">Lorem Ipsum is simply dummy</text>
</svg>
<svg width="626" height="447" viewBox="0 0 626 447">
 <g fill="#2b2e36"><circle cx="462.9" cy="363" r=".68"/><circle cx="464.9" cy="363" r=".68"/><circle cx="466.9" cy="363" r=".68"/></g>
 <g stroke="#f5f6f9" stroke-width=".5"><path d="M341 384.600 H468 M341 393.100 H468 M341 401.600 H468 M341 410.100 H468 M341 418.600 H468 M341 427.100 H468"/>
 <path d="M344.800 384 V427 M364.800 384 V427 M385 384 V427 M404.900 384 V427 M424.900 384 V427 M444.800 384 V427 M464.700 384 V427"/></g>
 <polyline points="344.8,408.6 364.8,413.2 385,397.6 404.9,410.2 424.9,412.5 444.8,393 464.7,405.8" fill="none" stroke="#3a2142" stroke-width=".6"/>
 <g fill="#15101c"><circle cx="344.8" cy="408.6" r="1.45"/><circle cx="364.8" cy="413.2" r="1.45"/><circle cx="385" cy="397.6" r="1.45"/><circle cx="404.9" cy="410.2" r="1.45"/><circle cx="424.9" cy="412.5" r="1.45"/><circle cx="444.8" cy="393" r="1.45"/><circle cx="464.7" cy="405.8" r="1.45"/></g>
 <rect x="444.200" y="368.5" width="30" height="18" fill="#fff"/>
 <rect x="341.5" y="419.5" width="40" height="17.5" fill="#fff"/>
 <circle cx="449.200" cy="382.400" r="1.900" fill="#fff" stroke="#ececf0" stroke-width=".4"/>
 <path d="M448.600 383 l1.300 -1.300 M449 381.600 h1 v1" fill="none" stroke="#2f9e8f" stroke-width=".4"/>
 <circle cx="345.400" cy="432.800" r="1.900" fill="#fff" stroke="#ececf0" stroke-width=".4"/>
 <path d="M344.500 431.900 h1.800 l-.9 1.300 Z" fill="#d8436d"/>
</svg>
<svg width="626" height="447" viewBox="0 0 626 447">
<text class="ys" x="337.4" y="386" text-anchor="end">500</text>
<text class="ys" x="337.4" y="394" text-anchor="end">400</text>
<text class="ys" x="337.4" y="403" text-anchor="end">300</text>
<text class="ys" x="337.4" y="411" text-anchor="end">200</text>
<text class="ys" x="337.4" y="420" text-anchor="end">100</text>
<text class="ys" x="337.4" y="428" text-anchor="end">0</text>
<text class="xs" x="384.6" y="432" text-anchor="middle">Wed</text>
<text class="xs" x="405" y="432" text-anchor="middle">Thu</text>
<text class="xs" x="424.9" y="432" text-anchor="middle">Fri</text>
<text class="xs" x="444.7" y="432" text-anchor="middle">Sat</text>
<text class="xs" x="464.6" y="432" text-anchor="middle">Sun</text>
<text class="" x="446.7" y="375" text-anchor="start" style="font-size:5px;color:#2b2e36;--sw:.1px">$1,251</text>
<text class="" x="453.4" y="383" text-anchor="start" style="font-size:3.200px;color:#45b3a0;--sw:.06px">+16,24 %</text>
<text class="" x="343.5" y="426" text-anchor="start" style="font-size:5px;color:#2b2e36;--sw:.1px">$1,251</text>
<text class="" x="350.6" y="434" text-anchor="start" style="font-size:3.200px;color:#d8436d;--sw:.06px">-03,87 %</text>
</svg>
</div>
<!--C8E-->
<!--C9S-->
<div id="c9c">
<svg width="626" height="447" viewBox="0 0 626 447">
<text class="h1" x="488.5" y="365" text-anchor="start" style="font-size:5.75px;--sw:.04px">Data Distribution</text>
</svg>
<svg width="626" height="447" viewBox="0 0 626 447">
 <g fill="#2b2e36"><circle cx="589.7" cy="362.9" r=".68"/><circle cx="591.7" cy="362.9" r=".68"/><circle cx="593.7" cy="362.9" r=".68"/></g>
 <g fill="#eaf0f7">
  <rect x="502.900" y="408.800" width="4.200" height="15.400"/>
  <rect x="515.200" y="398.600" width="4.200" height="25.600"/>
  <rect x="539.800" y="392.900" width="4.200" height="31.300"/>
  <rect x="551.900" y="396.300" width="4.200" height="27.900"/>
  <rect x="564.200" y="402.500" width="4.200" height="21.700"/>
  <rect x="576.600" y="402.500" width="4.200" height="21.700"/>
  <rect x="588.400" y="402.500" width="4.200" height="21.700"/>
 </g>
 <rect x="527.300" y="376.900" width="4.600" height="16" fill="#ddd3d1"/>
 <rect x="527.300" y="392.900" width="4.600" height="8.500" fill="#5b2a66"/>
 <rect x="527.300" y="401.300" width="4.600" height="22.900" fill="#ea8058"/>
 <rect x="534.500" y="373" width="29.200" height="14.100" rx="1.100" fill="#15171c"/><path d="M534.700 378.600 v2.400 l-1.700 -1.200 Z" fill="#15171c"/>
</svg>
<svg width="626" height="447" viewBox="0 0 626 447">
<text class="b" x="549.6" y="379" text-anchor="middle" style="font-size:3.1px;color:#fff">Total Spend</text>
<text class="b" x="549.6" y="384" text-anchor="middle" style="font-size:3.1px;color:#fff">1000€</text>
<text class="ys" x="496.5" y="375" text-anchor="end" style="color:#b4b7c0">100K</text>
<text class="ys" x="496.5" y="388" text-anchor="end" style="color:#b4b7c0">90K</text>
<text class="ys" x="496.5" y="401" text-anchor="end" style="color:#b4b7c0">80K</text>
<text class="ys" x="496.5" y="413" text-anchor="end" style="color:#b4b7c0">70K</text>
<text class="ys" x="496.5" y="426" text-anchor="end" style="color:#b4b7c0">60K</text>
<text class="xs" x="505" y="432" text-anchor="middle">Jun</text>
<text class="xs" x="517.3" y="432" text-anchor="middle">Jul</text>
<text class="xs" x="529.9" y="432" text-anchor="middle" style="font-size:3.7px;color:#2b2e36;--sw:.1px">Aug</text>
<text class="xs" x="541.9" y="432" text-anchor="middle">Sep</text>
<text class="xs" x="554" y="432" text-anchor="middle">Oct</text>
<text class="xs" x="566.3" y="432" text-anchor="middle">Nov</text>
<text class="xs" x="578.7" y="432" text-anchor="middle">Dec</text>
<text class="xs" x="590.5" y="432" text-anchor="middle">Jan</text>
</svg>
</div>
<!--C9E-->
</div>
</body></html>
